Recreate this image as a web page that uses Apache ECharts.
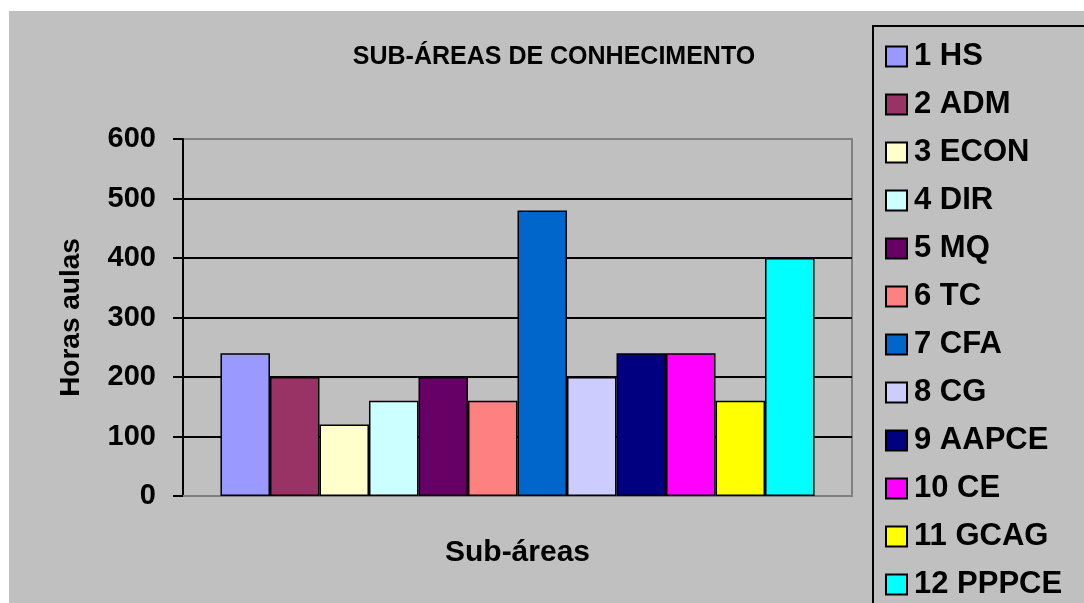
<!DOCTYPE html>
<html lang="pt">
<head>
<meta charset="UTF-8">
<title>Sub-áreas de conhecimento</title>
<style>
	html, body { margin: 0; padding: 0; background: #ffffff; }
	#main { position: absolute; left: 9px; top: 11px; width: 1075px; height: 592px; }
</style>
</head>
<body>
	<div id="main"></div>

	<script src="https://cdn.jsdelivr.net/npm/echarts@6/dist/echarts.min.js"></script>
	<script type="text/javascript">
		// dados do grafico
		var areas = ['1 HS', '2 ADM', '3 ECON', '4 DIR', '5 MQ', '6 TC',
			'7 CFA', '8 CG', '9 AAPCE', '10 CE', '11 GCAG', '12 PPPCE'];
		var horas = [240, 200, 120, 160, 200, 160, 480, 200, 240, 240, 160, 400];
		var cores = ['#9999ff', '#993366', '#ffffcc', '#ccffff', '#660066', '#ff8080',
			'#0066cc', '#ccccff', '#000080', '#ff00ff', '#ffff00', '#00ffff'];
		var yTicks = [0, 100, 200, 300, 400, 500, 600];

		var fonte = '"Liberation Sans", Arial, sans-serif';
		var myChart = echarts.init(document.getElementById('main'));

		var series = [];
		for (var i = 0; i < areas.length; i++) {
			series.push({
				name: areas[i],
				type: 'bar',
				data: [horas[i]],
				barGap: '0%',
				barCategoryGap: '11.2%',
				itemStyle: { color: cores[i], borderColor: '#000', borderWidth: 1.5 }
			});
		}

		var option = {
			backgroundColor: '#c0c0c0',
			animation: false,
			title: {
				text: 'SUB-ÁREAS DE CONHECIMENTO',
				left: 540,
				top: 29,
				textAlign: 'center',
				textStyle: { fontFamily: fonte, fontWeight: 'bold', fontSize: 25, color: '#000' }
			},
			legend: {
				orient: 'vertical',
				left: 871,
				top: 25,
				height: 800,
				itemWidth: 21,
				itemHeight: 20,
				itemGap: 17,
				icon: 'rect',
				data: areas,
				textStyle: { fontFamily: fonte, fontWeight: 'bold', fontSize: 31, color: '#000', padding: [0, 0, 0, 2] }
			},
			graphic: [{
				type: 'rect',
				shape: { x: 864, y: 15, width: 300, height: 700 },
				style: { fill: 'none', stroke: '#000', lineWidth: 2 },
				silent: true
			}],
			grid: {
				left: 174, top: 128, right: 232, bottom: 107,
				show: true, borderColor: '#808080', borderWidth: 2,
				backgroundColor: 'transparent'
			},
			xAxis: {
				type: 'category',
				data: [''],
				name: 'Sub-áreas',
				nameLocation: 'middle',
				nameGap: 42,
				nameTextStyle: { fontFamily: fonte, fontWeight: 'bold', fontSize: 30, color: '#000' },
				axisLine: { lineStyle: { color: '#808080', width: 2 } },
				axisTick: { show: false },
				axisLabel: { show: false }
			},
			yAxis: {
				type: 'value',
				min: yTicks[0],
				max: yTicks[yTicks.length - 1],
				interval: 100,
				name: 'Horas aulas',
				nameLocation: 'middle',
				nameGap: 98,
				nameTextStyle: { fontFamily: fonte, fontWeight: 'bold', fontSize: 28, color: '#000' },
				axisLine: { show: true, lineStyle: { color: '#000', width: 2 } },
				axisTick: { show: true, inside: false, length: 10, lineStyle: { color: '#000', width: 2 } },
				axisLabel: { margin: 27, fontFamily: fonte, fontWeight: 'bold', fontSize: 29, color: '#000' },
				splitLine: {
					show: true,
					lineStyle: {
						color: ['#808080', '#000', '#000', '#000', '#000', '#000', '#808080'],
						width: 2
					}
				}
			},
			series: series
		};

		myChart.setOption(option);
	</script>
</body>
</html>
